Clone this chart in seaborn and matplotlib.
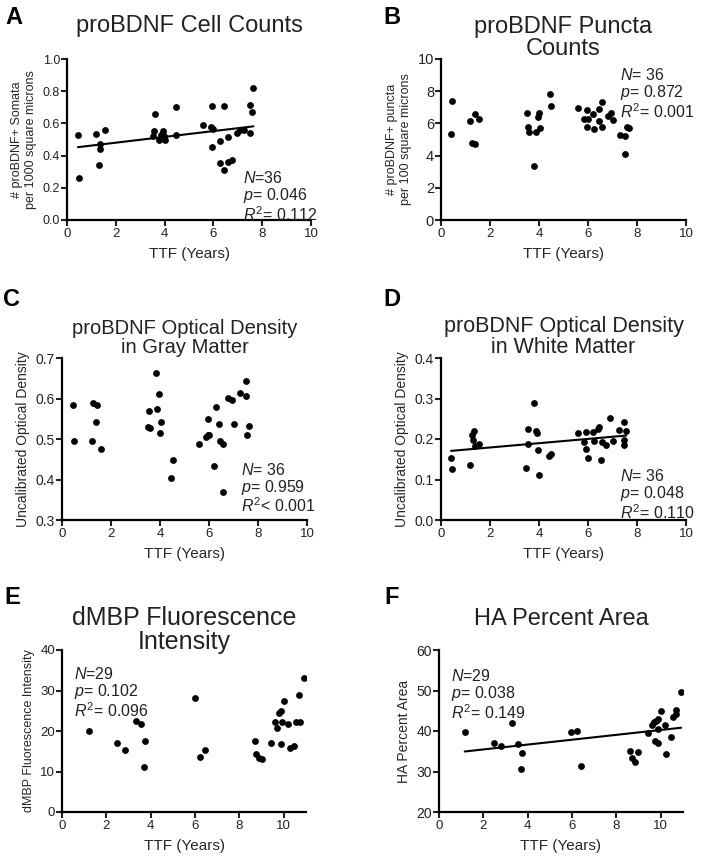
import numpy as np
import seaborn as sns
from matplotlib import pyplot as plt

# values (TTF in years)
a_ttf = [0.45, 0.48, 1.2, 1.3, 1.36, 1.36, 1.57, 3.52, 3.56, 3.59, 3.79, 3.85, 3.93, 3.97, 4.0, 4.45, 4.47,
         5.59, 5.9, 5.95, 5.95, 5.98, 6.25, 6.29, 6.43, 6.45, 6.59, 6.59, 6.77, 6.97, 7.07, 7.27, 7.5, 7.52, 7.57, 7.64]
a_val = [0.53, 0.26, 0.535, 0.34, 0.47, 0.44, 0.56, 0.52, 0.55, 0.66, 0.50, 0.53, 0.55, 0.52, 0.50, 0.527, 0.70,
         0.59, 0.58, 0.71, 0.456, 0.565, 0.353, 0.49, 0.31, 0.71, 0.515, 0.363, 0.37, 0.54, 0.56, 0.56, 0.54, 0.716, 0.668, 0.82]

b_ttf = [0.41, 0.45, 1.18, 1.27, 1.37, 1.38, 1.57, 3.5, 3.56, 3.6, 3.8, 3.87, 3.94, 3.98, 4.04, 4.46, 4.51,
         5.61, 5.85, 5.95, 5.96, 5.99, 6.22, 6.26, 6.44, 6.44, 6.56, 6.58, 6.81, 6.95, 7.04, 7.29, 7.5, 7.5, 7.59, 7.66]
b_val = [5.32, 7.42, 6.12, 4.8, 4.74, 6.6, 6.25, 6.64, 5.77, 5.46, 3.36, 5.46, 6.39, 6.66, 5.73, 7.84, 7.11,
         6.95, 6.29, 6.85, 5.77, 6.29, 6.6, 5.63, 6.9, 6.14, 5.77, 7.36, 6.43, 6.64, 6.23, 5.3, 5.2, 4.12, 5.77, 5.71]

c_ttf = [0.46, 0.49, 1.21, 1.28, 1.37, 1.41, 1.58, 3.5, 3.56, 3.59, 3.84, 3.89, 3.95, 4.0, 4.04, 4.46, 4.52,
         5.61, 5.86, 5.95, 5.95, 6.01, 6.2, 6.27, 6.42, 6.45, 6.57, 6.59, 6.76, 6.95, 7.03, 7.27, 7.5, 7.51, 7.56, 7.63]
c_val = [0.584, 0.494, 0.494, 0.588, 0.541, 0.584, 0.475, 0.529, 0.568, 0.527, 0.662, 0.573, 0.612, 0.516, 0.541, 0.403, 0.449,
         0.488, 0.506, 0.509, 0.550, 0.511, 0.434, 0.580, 0.537, 0.495, 0.370, 0.488, 0.602, 0.596, 0.537, 0.613, 0.643, 0.605, 0.510, 0.533]

d_ttf = [0.41, 0.45, 1.17, 1.27, 1.31, 1.33, 1.40, 1.54, 3.48, 3.54, 3.55, 3.81, 3.88, 3.92, 3.96, 4.01, 4.39, 4.49,
         5.58, 5.85, 5.92, 5.92, 5.99, 6.20, 6.23, 6.39, 6.46, 6.54, 6.57, 6.75, 6.91, 7.0, 7.25, 7.46, 7.48, 7.48, 7.56]
d_val = [0.153, 0.127, 0.137, 0.211, 0.198, 0.220, 0.182, 0.188, 0.129, 0.224, 0.188, 0.290, 0.220, 0.214, 0.174, 0.112, 0.159, 0.163,
         0.216, 0.192, 0.218, 0.176, 0.153, 0.218, 0.196, 0.224, 0.229, 0.149, 0.192, 0.184, 0.253, 0.196, 0.222, 0.186, 0.242, 0.198, 0.219]

e_ttf = [1.2, 2.48, 2.82, 3.32, 3.57, 3.68, 3.75, 5.98, 6.23, 6.43, 8.68, 8.74, 8.86, 9.01, 9.43, 9.58, 9.71,
         9.79, 9.86, 9.88, 9.91, 10.03, 10.18, 10.26, 10.44, 10.54, 10.69, 10.71, 10.92]
e_val = [19.9, 17.0, 15.3, 22.5, 21.7, 11.1, 17.6, 28.2, 13.7, 15.3, 17.5, 14.3, 13.3, 13.1, 17.1, 22.1, 20.7,
         24.4, 16.7, 24.9, 22.1, 27.5, 21.7, 15.9, 16.4, 22.1, 28.9, 22.3, 33.0]

f_ttf = [1.16, 2.46, 2.81, 3.30, 3.56, 3.68, 3.74, 5.96, 6.22, 6.41, 8.63, 8.71, 8.84, 8.99, 9.44, 9.59, 9.71,
         9.76, 9.79, 9.86, 9.86, 9.86, 10.02, 10.17, 10.24, 10.44, 10.54, 10.69, 10.69, 10.92]
f_val = [39.8, 37.1, 36.3, 41.9, 36.7, 30.7, 34.6, 39.8, 40.0, 31.4, 35.1, 33.4, 32.4, 34.8, 39.4, 41.4, 42.2,
         37.5, 42.5, 42.9, 37.1, 40.6, 44.9, 41.6, 34.2, 38.4, 43.5, 45.3, 44.1, 49.6]

sns.set_theme(style="ticks")
plt.rcParams['font.family'] = ['Liberation Sans', 'DejaVu Sans']
plt.rcParams['mathtext.fontset'] = 'custom'
plt.rcParams['mathtext.rm'] = 'Liberation Sans'
plt.rcParams['mathtext.it'] = 'Liberation Sans:italic'
plt.rcParams['text.color'] = '#222222'

W, H = 702, 865
fig = plt.figure(figsize=(W / 100, H / 100), dpi=100)


def make_ax(left, top, width, height):
    # pixel box -> figure fraction
    return fig.add_axes([left / W, (H - top - height) / H, width / W, height / H])


def panel(ax, x, y, fit, xmax, ylim, ystep, yfmt, ylabel, ysize, ticksize, stats, sx, sy):
    sns.scatterplot(x=x, y=y, ax=ax, color="black", s=24, linewidth=0, zorder=3)
    if fit:
        sns.regplot(x=np.array(x), y=np.array(y), ax=ax, scatter=False, ci=None,
                    color="black", line_kws={"linewidth": 1.5})
    ax.set_xlim(0, xmax)
    ax.set_ylim(*ylim)
    ax.set_xticks(range(0, 11, 2))
    ax.set_yticks(np.arange(ylim[0], ylim[1] + ystep / 2, ystep))
    ax.set_yticklabels([yfmt.format(v) for v in np.arange(ylim[0], ylim[1] + ystep / 2, ystep)])
    ax.tick_params(axis="y", labelsize=ticksize, width=1.5, length=4, pad=1, colors="#222222")
    ax.tick_params(axis="x", labelsize=9.5, width=1.5, length=4, pad=2, colors="#222222")
    for sp in ["left", "bottom"]:
        ax.spines[sp].set_linewidth(1.6)
        ax.spines[sp].set_color("black")
    sns.despine(ax=ax)
    ax.set_xlabel("TTF (Years)", fontsize=11, labelpad=5)
    ax.set_ylabel(ylabel, fontsize=ysize, labelpad=4)
    ax.text(sx, sy, stats, transform=ax.transAxes, fontsize=11.5, va="top", ha="left", linespacing=1.0)


axA = make_ax(67, 59, 244, 161)
axB = make_ax(441, 59, 245, 161)
axC = make_ax(62, 358, 245, 162)
axD = make_ax(441, 358, 245, 162)
axE = make_ax(62, 650, 244, 162)
axF = make_ax(439, 650, 244, 162)

panel(axA, a_ttf, a_val, True, 10, (0, 1.0), 0.2, "{:.1f}",
      "# proBDNF+ Somata\nper 1000 square microns", 9, 9,
      "$N$=36\n$p$= 0.046\n$R^2$= 0.112", 0.72, 0.31)
panel(axB, b_ttf, b_val, False, 10, (0, 10), 2, "{:.0f}",
      "# proBDNF+ puncta\nper 100 square microns", 9, 10.5,
      "$N$= 36\n$p$= 0.872\n$R^2$= 0.001", 0.73, 0.95)
panel(axC, c_ttf, c_val, False, 10, (0.3, 0.7), 0.1, "{:.1f}",
      "Uncalibrated Optical Density", 10, 10,
      "$N$= 36\n$p$= 0.959\n$R^2$< 0.001", 0.73, 0.36)
panel(axD, d_ttf, d_val, True, 10, (0, 0.4), 0.1, "{:.1f}",
      "Uncalibrated Optical Density", 10, 10,
      "$N$= 36\n$p$= 0.048\n$R^2$= 0.110", 0.73, 0.32)
panel(axE, e_ttf, e_val, False, 11, (0, 40), 10, "{:.0f}",
      "dMBP Fluorescence Intensity", 9, 9.5,
      "$N$=29\n$p$= 0.102\n$R^2$= 0.096", 0.05, 0.90)
panel(axF, f_ttf, f_val, True, 11, (20, 60), 10, "{:.0f}",
      "HA Percent Area", 10, 10,
      "$N$=29\n$p$= 0.038\n$R^2$= 0.149", 0.05, 0.89)

# titles, placed by pixel centre
titles = [(axA, "proBDNF Cell Counts", 17, 26),
          (axB, "proBDNF Puncta\nCounts", 17, 38),
          (axC, "proBDNF Optical Density\nin Gray Matter", 14.5, 338),
          (axD, "proBDNF Optical Density\nin White Matter", 15.5, 337),
          (axE, "dMBP Fluorescence\nIntensity", 18, 630),
          (axF, "HA Percent Area", 17, 619)]
for ax, t, size, ypix in titles:
    pos = ax.get_position()
    fig.text(pos.x0 + pos.width / 2, 1 - ypix / H, t, fontsize=size, ha="center", va="center",
             linespacing=1.05)

# panel letters
for letter, xp, yp in [("A", 14, 17), ("B", 392, 17), ("C", 11, 300), ("D", 392, 300),
                       ("E", 12, 598), ("F", 392, 598)]:
    fig.text(xp / W, 1 - yp / H, letter, fontsize=17, fontweight="bold", ha="center", va="center",
             color="black")

plt.savefig("out.png", dpi=100)
